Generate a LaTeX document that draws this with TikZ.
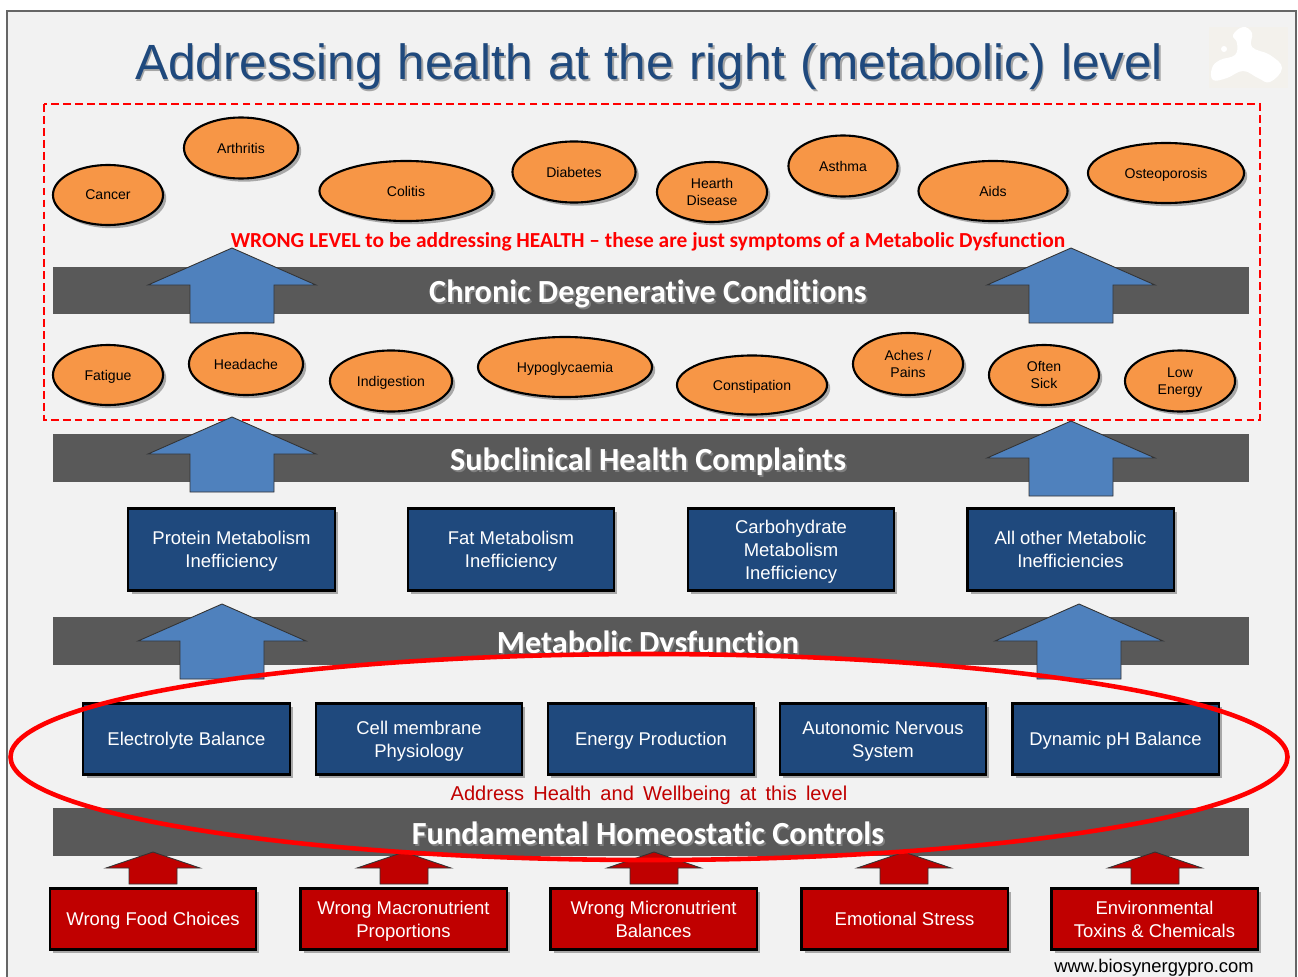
\documentclass[tikz,border=0pt]{standalone}
\usepackage{fontspec}
\setmainfont{Liberation Sans}
\newfontfamily\calibrifont[Ligatures=NoCommon]{Carlito}
\usetikzlibrary{shapes.geometric, shadows}
\definecolor{xpanel}{HTML}{F2F2F2}
\definecolor{xbar}{HTML}{595959}
\definecolor{xnavy}{HTML}{1F497D}
\definecolor{xorange}{HTML}{F79646}
\definecolor{xblue}{HTML}{4F81BD}
\definecolor{xdarkred}{HTML}{C00000}
\definecolor{xlogo}{HTML}{F3F1EC}
\newcommand{\softtext}[2]{\leavevmode\rlap{\hspace{.5pt}\raisebox{-.5pt}{\textcolor{#1}{#2}}}#2}
\newcommand{\widespace}[1]{\spaceskip #1\relax}
\tikzset{
	softshadow/.style={drop shadow={shadow xshift=.9pt, shadow yshift=-.9pt, opacity=.3, fill=black}},
	oval/.style={ellipse, draw=black, line width=.6pt, fill=xorange, inner sep=0pt, align=center, softshadow,
		text depth=-.9pt, font=\fontsize{4}{4.9}\selectfont},
	levelbar/.style={fill=xbar, minimum width=11.96cm, minimum height=.475cm, inner sep=0pt},
	barlabel/.style={text=white, inner sep=0pt, text depth=0pt, font=\calibrifont\bfseries\fontsize{9.17}{10}\selectfont},
	metabox/.style={rectangle, draw=black, line width=.6pt, fill=xnavy, text=white, inner sep=0pt, align=center, softshadow,
		text depth=0pt, minimum width=2.06cm, font=\fontsize{5.25}{6.5}\selectfont},
	causebox/.style={metabox, fill=xdarkred, minimum height=.61cm},
	pics/bigarrow/.style={code={
		\draw[draw=black!80, line width=.25pt, fill=xblue] (0,0) -- (84,37) -- (42,37) -- (42,75) -- (-42,75) -- (-42,37) -- (-84,37) -- cycle;
	}},
	pics/smallarrow/.style={code={
		\draw[draw=black!80, line width=.25pt, fill=xdarkred] (0,0) -- (47,16) -- (24,16) -- (24,32) -- (-24,32) -- (-24,16) -- (-47,16) -- cycle;
	}},
}

\begin{document}
\begin{tikzpicture}[x=0.01cm, y=-0.01cm]
	\clip (0,0) rectangle (1298,976);
	\fill[white] (0,0) rectangle (1298,976);
	\draw[fill=xpanel, draw=black!60, line width=.6pt] (7,11) rectangle (1296,990);

	% logo
	\fill[xlogo] (1209,27) rectangle (1288,88);
	\fill[white] plot[smooth cycle, tension=.7] coordinates {(1243,27) (1252,33) (1252,47) (1270,55) (1282,68) (1270,82)
		(1258,78) (1243,71) (1227,78) (1213,80) (1212,68) (1220,60) (1235,55) (1237,43) (1233,35)};
	\fill[white] (1224,49) circle (3);

	\node[text=xnavy, inner sep=0pt, anchor=base, font=\fontsize{14.07}{18}\selectfont\widespace{4.4pt}] (title) at (649,80)
		{\softtext{black!35}{Addressing health at the right (metabolic) level}};

	\draw[red, line width=.7pt, dashed, dash pattern=on 2.2pt off 1.2pt] (44,104) rectangle (1260,420);

	% bars, the ring is filled over the third one
	\node[levelbar] (chronic) at (651,290.5) {};
	\node[levelbar] (subclinical) at (651,458) {};
	\node[levelbar] (metabolic) at (651,641) {};
	\node[barlabel] (metaboliclabel) at (648,642) {\softtext{black!50}{Metabolic Dysfunction}};
	\fill[xpanel] (649,757) ellipse [x radius=638.5, y radius=103];
	\node[levelbar] (homeostatic) at (651,832) {};
	\node[barlabel] (chroniclabel) at (648,291) {\softtext{black!50}{Chronic Degenerative Conditions}};
	\node[barlabel] (subclinicallabel) at (648,459) {\softtext{black!50}{Subclinical Health Complaints}};
	\node[barlabel] (homeostaticlabel) at (648,833) {\softtext{black!50}{Fundamental Homeostatic Controls}};

	% block arrows
	\pic (up1) at (232,248) {bigarrow};
	\pic (up2) at (1071,248) {bigarrow};
	\pic (up3) at (232,417) {bigarrow};
	\pic (up4) at (1071,421) {bigarrow};
	\pic (up5) at (222,604) {bigarrow};
	\pic (up6) at (1079,604) {bigarrow};
	\pic (cause1) at (153,852) {smallarrow};
	\pic (cause2) at (404,852) {smallarrow};
	\pic (cause3) at (654,852) {smallarrow};
	\pic (cause4) at (904,852) {smallarrow};
	\pic (cause5) at (1155,852) {smallarrow};

	% chronic conditions
	\node[oval, minimum width=1.10cm, minimum height=.60cm] (cancer) at (108,195) {Cancer};
	\node[oval, minimum width=1.14cm, minimum height=.61cm] (arthritis) at (241,148) {Arthritis};
	\node[oval, minimum width=1.73cm, minimum height=.60cm] (colitis) at (406,191) {Colitis};
	\node[oval, minimum width=1.23cm, minimum height=.61cm] (diabetes) at (574,172) {Diabetes};
	\node[oval, minimum width=1.10cm, minimum height=.60cm] (heart) at (712,192) {Hearth\\Disease};
	\node[oval, minimum width=1.09cm, minimum height=.61cm] (asthma) at (843,166) {Asthma};
	\node[oval, minimum width=1.49cm, minimum height=.60cm] (aids) at (993,191) {Aids};
	\node[oval, minimum width=1.56cm, minimum height=.60cm] (osteoporosis) at (1166,173) {Osteoporosis};

	% subclinical complaints
	\node[oval, minimum width=1.10cm, minimum height=.60cm] (fatigue) at (108,375) {Fatigue};
	\node[oval, minimum width=1.14cm, minimum height=.62cm] (headache) at (246,364) {Headache};
	\node[oval, minimum width=1.22cm, minimum height=.61cm] (indigestion) at (391,381) {Indigestion};
	\node[oval, minimum width=1.74cm, minimum height=.60cm] (hypoglycaemia) at (565,367) {Hypoglycaemia};
	\node[oval, minimum width=1.50cm, minimum height=.59cm] (constipation) at (752,385) {Constipation};
	\node[oval, minimum width=1.10cm, minimum height=.62cm] (aches) at (908,364) {Aches /\\Pains};
	\node[oval, minimum width=1.10cm, minimum height=.60cm] (sick) at (1044,375) {Often\\Sick};
	\node[oval, minimum width=1.10cm, minimum height=.61cm] (energy) at (1180,381) {Low\\Energy};

	\node[text=red, inner sep=0pt, text depth=0pt, font=\calibrifont\bfseries\fontsize{6.08}{7}\selectfont] (wrong) at (648,240)
		{WRONG LEVEL to be addressing HEALTH – these are just symptoms of a Metabolic Dysfunction};

	% metabolic inefficiencies
	\node[metabox, minimum height=.82cm] (protein) at (231.5,549.5) {Protein Metabolism\\Inefficiency};
	\node[metabox, minimum height=.82cm] (fat) at (511,549.5) {Fat Metabolism\\Inefficiency};
	\node[metabox, minimum height=.82cm] (carbohydrate) at (791,549.5) {Carbohydrate\\Metabolism\\Inefficiency};
	\node[metabox, minimum height=.82cm] (other) at (1070.5,549.5) {All other Metabolic\\Inefficiencies};

	% homeostatic controls
	\node[metabox, minimum height=.71cm] (electrolyte) at (186.5,739) {Electrolyte Balance};
	\node[metabox, minimum height=.71cm] (membrane) at (419,739) {Cell membrane\\Physiology};
	\node[metabox, minimum height=.71cm] (production) at (651,739) {Energy Production};
	\node[metabox, minimum height=.71cm] (nervous) at (883,739) {Autonomic Nervous\\System};
	\node[metabox, minimum height=.71cm] (ph) at (1115.5,739) {Dynamic pH Balance};

	\node[text=xdarkred, inner sep=0pt, text depth=0pt, font=\fontsize{5.7}{7}\selectfont\widespace{2.6pt}] (address) at (649,793)
		{Address Health and Wellbeing at this level};

	% causes
	\node[causebox] (food) at (153,919) {Wrong Food Choices};
	\node[causebox] (macro) at (403.5,919) {Wrong Macronutrient\\Proportions};
	\node[causebox] (micro) at (653.5,919) {Wrong Micronutrient\\Balances};
	\node[causebox] (stress) at (904.5,919) {Emotional Stress};
	\node[causebox] (toxins) at (1154.5,919) {Environmental\\Toxins \& Chemicals};

	\node[inner sep=0pt, font=\fontsize{5.23}{6}\selectfont] (site) at (1154,968) {www.biosynergypro.com};

	% ring
	\draw[red, line width=1.3pt] (649,757) ellipse [x radius=638.5, y radius=103];
\end{tikzpicture}
\end{document}
